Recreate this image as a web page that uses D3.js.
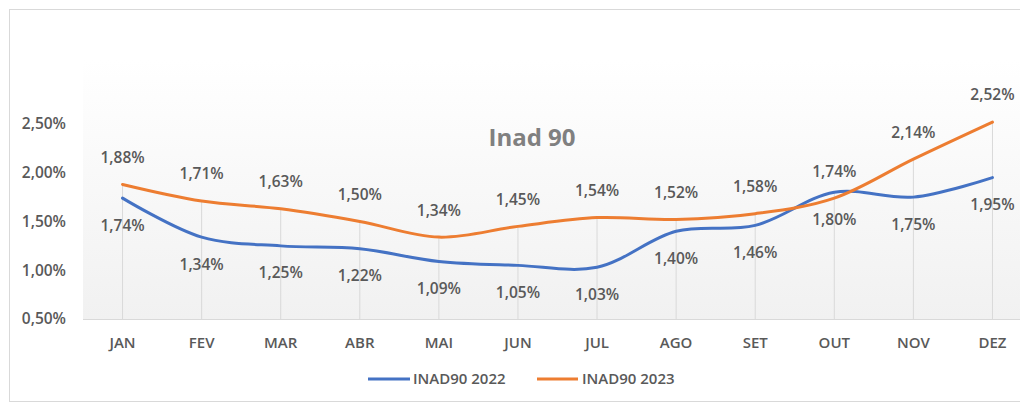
<!DOCTYPE html>
<html><head><meta charset="utf-8">
<script src="https://cdn.jsdelivr.net/npm/d3@7"></script>
<style>body{margin:0;background:#fff}svg{display:block}text{font-family:"Open Sans","Noto Sans",sans-serif}</style>
</head><body>
<script>
const months = ["JAN","FEV","MAR","ABR","MAI","JUN","JUL","AGO","SET","OUT","NOV","DEZ"];
const inad2022 = [1.74,1.34,1.25,1.22,1.09,1.05,1.03,1.40,1.46,1.80,1.75,1.95];
const inad2023 = [1.88,1.71,1.63,1.50,1.34,1.45,1.54,1.52,1.58,1.74,2.14,2.52];
const yTicks = [0.5,1.0,1.5,2.0,2.5];
const seriesNames = ["INAD90 2022","INAD90 2023"];
const colors = ["#4472C4","#ED7D31"];

const W=1020,H=407;
const svg=d3.select("body").append("svg").attr("width",W).attr("height",H);
const defs=svg.append("defs");
const g=defs.append("linearGradient").attr("id","bg").attr("x1",0).attr("y1",0).attr("x2",0).attr("y2",1);
g.append("stop").attr("offset","0%").attr("stop-color","#ffffff");
g.append("stop").attr("offset","100%").attr("stop-color","#f1f1f1");

svg.append("rect").attr("x",9.5).attr("y",9.5).attr("width",W+10).attr("height",392).attr("fill","#fff").attr("stroke","#d9d9d9");

const x=d3.scaleBand().domain(months).range([83,1032]);
const y=d3.scaleLinear().domain([0.5,2.5]).range([319,124]);
const cx=m=>x(m)+x.bandwidth()/2;

svg.append("rect").attr("x",83).attr("y",60).attr("width",949).attr("height",259).attr("fill","url(#bg)");

// drop lines
svg.append("g").selectAll("line").data(months).join("line")
  .attr("x1",cx).attr("x2",cx)
  .attr("y1",(m,i)=>y(Math.max(inad2022[i],inad2023[i]))).attr("y2",y(0.5))
  .attr("stroke","#d9d9d9").attr("stroke-width",1);

// baseline
svg.append("line").attr("x1",83).attr("x2",1032).attr("y1",y(0.5)+0.5).attr("y2",y(0.5)+0.5).attr("stroke","#d9d9d9");

// y axis labels
svg.append("g").selectAll("text").data(yTicks).join("text")
  .attr("x",66).attr("y",d=>y(d)).attr("dy","0.35em").attr("text-anchor","end")
  .attr("font-size",15.5).attr("font-weight",600).attr("fill","#595959")
  .text(d=>d.toFixed(2).replace(".",",")+"%");

// x axis labels
svg.append("g").selectAll("text").data(months).join("text")
  .attr("x",cx).attr("y",343).attr("dy","0.35em").attr("text-anchor","middle")
  .attr("font-size",15).attr("font-weight",600).attr("fill","#595959").text(d=>d);

// title
svg.append("text").attr("x",532).attr("y",138).attr("dy","0.35em").attr("text-anchor","middle")
  .attr("font-size",24).attr("font-weight",700).attr("fill","#808080").text("Inad 90");

const line=d3.line().x((d,i)=>cx(months[i])).y(d=>y(d)).curve(d3.curveCatmullRom.alpha(0.5));
[inad2022,inad2023].forEach((s,k)=>{
  svg.append("path").attr("d",line(s)).attr("fill","none").attr("stroke",colors[k]).attr("stroke-width",3).attr("stroke-linecap","round");
});

const fmt=v=>v.toFixed(2).replace(".",",")+"%";
// labels
[inad2022,inad2023].forEach((s,k)=>{
  svg.append("g").selectAll("text").data(s).join("text")
    .attr("x",(d,i)=>cx(months[i])).attr("y",d=>y(d)+(k===0?27:-27)).attr("dy","0.35em")
    .attr("text-anchor","middle").attr("font-size",15.5).attr("font-weight",600).attr("fill","#595959")
    .text(fmt);
});

// legend
const leg=[{x1:368,x2:410,tx:413},{x1:537,x2:578,tx:582}];
leg.forEach((l,k)=>{
  svg.append("line").attr("x1",l.x1).attr("x2",l.x2).attr("y1",379).attr("y2",379).attr("stroke",colors[k]).attr("stroke-width",3);
  svg.append("text").attr("x",l.tx).attr("y",379).attr("dy","0.35em").attr("font-size",15).attr("font-weight",600).attr("fill","#595959").text(seriesNames[k]);
});
</script>
</body></html>
